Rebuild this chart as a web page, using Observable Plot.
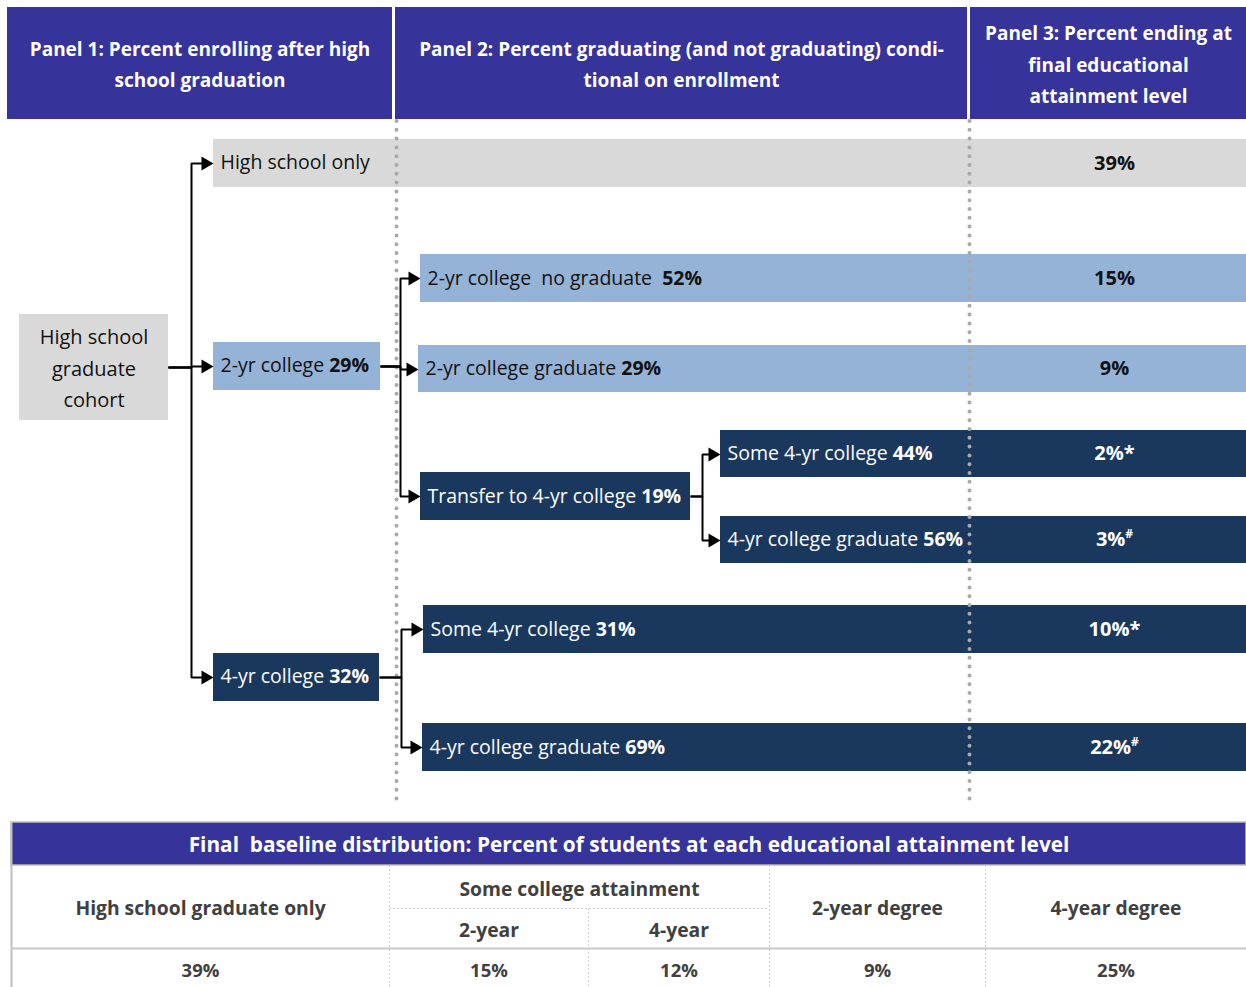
<!DOCTYPE html>
<html>
<head>
<meta charset="utf-8">
<script src="https://cdn.jsdelivr.net/npm/d3@7"></script>
<script src="https://cdn.jsdelivr.net/npm/@observablehq/plot@0.6"></script>
<style>
  html, body { margin: 0; padding: 0; background: #fff; }
  svg text { white-space: pre; }
</style>
</head>
<body>
<div id="chart"></div>
<script>
// ---------------- DATA ----------------
const panelTitles = [
  ["Panel 1: Percent enrolling after high", "school graduation"],
  ["Panel 2: Percent graduating (and not graduating) condi-", "tional on enrollment"],
  ["Panel 3: Percent ending at", "final educational", "attainment level"]
];
const cohortLabel = ["High school", "graduate", "cohort"];
const enrollLabels = ["High school only", "2-yr college", "4-yr college"];
const enrollPct = [null, 29, 32];
const outcomeLabels = [
  "2-yr college  no graduate  ",
  "2-yr college graduate ",
  "Transfer to 4-yr college ",
  "Some 4-yr college ",
  "4-yr college graduate ",
  "Some 4-yr college ",
  "4-yr college graduate "
];
const outcomePct = [52, 29, 19, 44, 56, 31, 69];
const finalPct = [39, 15, 9, 2, 3, 10, 22];
const finalNotes = ["", "", "", "*", "#", "*", "#"];
const tableTitle = "Final  baseline distribution: Percent of students at each educational attainment level";
const tableHeaders = ["High school graduate only", "Some college attainment", "2-year degree", "4-year degree"];
const tableSubHeaders = ["2-year", "4-year"];
const tableValues = [39, 15, 12, 9, 25];

// ---------------- LAYOUT & STYLE ----------------
const W = 1246, H = 987;
const FONT = "'Open Sans', 'Noto Sans', sans-serif";
const C = {
  header: "#36339a", grey: "#d9d9d9", light: "#95b3d7", dark: "#1a375e",
  ink: "#111111", tableInk: "#404040", dots: "#a9a9a9", rule: "#c8c8c8", faint: "#d4d4d4"
};
const headerBand = {y0: 7, y1: 119, cols: [[7, 392], [395, 967], [970, 1246]]};
const geo = {
  cohort: [19, 168, 314, 420],
  hs: [213, 1246, 139, 187],
  cc: [213, 380, 342, 390],
  fy: [213, 379, 653, 701],
  ccNo: [420, 1246, 254, 302],
  ccGrad: [418, 1246, 345, 392],
  transfer: [420, 690, 472, 520],
  trSome: [720, 1246, 430, 477],
  trGrad: [720, 1246, 516, 563],
  fySome: [423, 1246, 605, 653],
  fyGrad: [422, 1246, 723, 771]
};
const tone = {cohort: "grey", hs: "grey", cc: "light", fy: "dark", ccNo: "light", ccGrad: "light",
  transfer: "dark", trSome: "dark", trGrad: "dark", fySome: "dark", fyGrad: "dark"};
const enrollIds = ["hs", "cc", "fy"];
const outcomeIds = ["ccNo", "ccGrad", "transfer", "trSome", "trGrad", "fySome", "fyGrad"];
const finalIds = ["hs", "ccNo", "ccGrad", "trSome", "trGrad", "fySome", "fyGrad"];
const links = [
  {from: "cohort", trunk: 191, to: ["hs", "cc", "fy"]},
  {from: "cc", trunk: 400, to: ["ccNo", "ccGrad", "transfer"]},
  {from: "transfer", trunk: 702, to: ["trSome", "trGrad"]},
  {from: "fy", trunk: 401, to: ["fySome", "fyGrad"]}
];
const dividers = {xs: [396, 969], y1: 121, y2: 802};
const valueX = 1114;
const table = {x0: 11, x1: 1246, title: [822, 865], split: 908, rule: 948, bottom: 987,
  cols: [11, 389, 769, 985, 1246], sub: 588};
const arrow = {len: 12, half: 7};

// ---------------- BUILD MARK DATA ----------------
const cy = id => (geo[id][2] + geo[id][3]) / 2;
const fillOf = t => C[t];
const textOn = t => t === "dark" ? "#ffffff" : C.ink;

const rects = [];
headerBand.cols.forEach(([a, b]) => rects.push({x0: a, x1: b, y0: headerBand.y0, y1: headerBand.y1, fill: C.header}));
Object.entries(geo).forEach(([id, [a, b, c, d]]) => rects.push({x0: a, x1: b, y0: c, y1: d, fill: fillOf(tone[id])}));
const titleRect = [{x0: table.x0, x1: table.x1, y0: table.title[0], y1: table.title[1], fill: C.header}];

const paths = [], heads = [];
links.forEach((l, i) => {
  const sx = geo[l.from][1], sy = cy(l.from);
  l.to.forEach((t, j) => {
    const tx = geo[t][0], ty = Math.round(cy(t));
    const pid = `${i}-${j}`;
    [[sx, sy], [l.trunk, sy], [l.trunk, ty], [tx - arrow.len + 1, ty]].forEach(([x, y]) => paths.push({x, y, path: pid}));
    [[tx, ty], [tx - arrow.len, ty - arrow.half], [tx - arrow.len, ty + arrow.half], [tx, ty]].forEach(([x, y]) => heads.push({x, y, id: pid}));
  });
});

const headerTexts = panelTitles.map((lines, i) => ({
  x: (headerBand.cols[i][0] + headerBand.cols[i][1]) / 2,
  y: (headerBand.y0 + headerBand.y1) / 2 - 2,
  text: lines.join("\n")
}));

const cohortText = [{x: (geo.cohort[0] + geo.cohort[1]) / 2, y: cy("cohort") - 2, text: cohortLabel.join("\n")}];

const boxTexts = [];
enrollIds.forEach((id, i) => boxTexts.push({
  x: geo[id][0] + 7, y: cy(id) - 1,
  text: enrollPct[i] == null ? enrollLabels[i] : `${enrollLabels[i]} |${enrollPct[i]}%`,
  fill: textOn(tone[id])
}));
outcomeIds.forEach((id, i) => boxTexts.push({
  x: geo[id][0] + 7, y: cy(id),
  text: `${outcomeLabels[i]}|${outcomePct[i]}%`,
  fill: textOn(tone[id])
}));

const finalTexts = finalIds.map((id, i) => ({
  x: valueX, y: cy(id),
  text: `${finalPct[i]}%` + (finalNotes[i] === "#" ? "^#" : finalNotes[i]),
  fill: textOn(tone[id])
}));

const cols = table.cols;
const mid = (a, b) => (a + b) / 2;
const tableTexts = [
  {x: mid(cols[0], cols[1]), y: mid(table.title[1], table.rule) + 2, text: tableHeaders[0]},
  {x: mid(cols[1], cols[2]), y: mid(table.title[1], table.split) + 3, text: tableHeaders[1]},
  {x: mid(cols[2], cols[3]), y: mid(table.title[1], table.rule) + 2, text: tableHeaders[2]},
  {x: mid(cols[3], cols[4]), y: mid(table.title[1], table.rule) + 2, text: tableHeaders[3]},
  {x: mid(cols[1], table.sub), y: mid(table.split, table.rule) + 2, text: tableSubHeaders[0]},
  {x: mid(table.sub, cols[2]), y: mid(table.split, table.rule) + 2, text: tableSubHeaders[1]}
];
const valueCenters = [mid(cols[0], cols[1]), mid(cols[1], table.sub), mid(table.sub, cols[2]), mid(cols[2], cols[3]), mid(cols[3], cols[4])];
const tableValueTexts = tableValues.map((v, i) => ({x: valueCenters[i], y: mid(table.rule, table.bottom) + 3, text: `${v}%`}));
const titleText = [{x: mid(table.x0, table.x1), y: mid(table.title[0], table.title[1]) + 1, text: tableTitle}];

const dashedV = [cols[1], cols[2], cols[3]].map(x => ({x, y1: table.title[1], y2: table.bottom}))
  .concat([{x: table.sub, y1: table.split, y2: table.bottom}]);

// ---------------- PLOT ----------------
const chart = Plot.plot({
  width: W, height: H,
  marginTop: 0, marginRight: 0, marginBottom: 0, marginLeft: 0,
  x: {domain: [0, W], range: [0, W], axis: null},
  y: {domain: [0, H], range: [0, H], axis: null},
  color: {type: "identity"},
  style: {fontFamily: FONT, background: "#ffffff", overflow: "visible"},
  marks: [
    Plot.rect(rects, {x1: "x0", x2: "x1", y1: "y0", y2: "y1", fill: "fill"}),
    Plot.ruleX(dividers.xs, {x: d => d, y1: dividers.y1, y2: dividers.y2, stroke: C.dots, strokeWidth: 4, strokeDasharray: "0 8.8", strokeLinecap: "round"}),
    Plot.line(paths, {x: "x", y: "y", z: "path", stroke: "#000", strokeWidth: 2, strokeLinecap: "butt", strokeLinejoin: "miter"}),
    Plot.line(heads, {x: "x", y: "y", z: "id", fill: "#000", stroke: "none"}),
    // bottom table
    Plot.rect(titleRect, {x1: "x0", x2: "x1", y1: "y0", y2: "y1", fill: "fill", stroke: "#bdbdbd", strokeWidth: 1.5}),
    Plot.ruleX([table.x0], {x: d => d, y1: table.title[0], y2: table.bottom, stroke: "#bfbfbf", strokeWidth: 2}),
    Plot.ruleX(dashedV, {x: "x", y1: "y1", y2: "y2", stroke: C.faint, strokeWidth: 1, strokeDasharray: "2 2"}),
    Plot.ruleY([table.split], {y: d => d, x1: cols[1], x2: cols[2], stroke: C.faint, strokeWidth: 1, strokeDasharray: "2 2"}),
    Plot.ruleY([table.rule], {y: d => d, x1: table.x0, x2: table.x1, stroke: C.rule, strokeWidth: 2}),
    // texts
    Plot.text(headerTexts, {x: "x", y: "y", text: "text", fill: "#ffffff", fontWeight: "bold", fontSize: 19, lineHeight: 1.65}),
    Plot.text(cohortText, {x: "x", y: "y", text: "text", fill: C.ink, fontSize: 20, lineHeight: 1.58}),
    Plot.text(boxTexts, {x: "x", y: "y", text: "text", fill: "fill", fontSize: 19.5, textAnchor: "start"}),
    Plot.text(finalTexts, {x: "x", y: "y", text: "text", fill: "fill", fontSize: 20, fontWeight: "bold"}),
    Plot.text(tableTexts, {x: "x", y: "y", text: "text", fill: C.tableInk, fontSize: 19.3, fontWeight: "bold"}),
    Plot.text(tableValueTexts, {x: "x", y: "y", text: "text", fill: C.tableInk, fontSize: 18.5, fontWeight: "bold"}),
    Plot.text(titleText, {x: "x", y: "y", text: "text", fill: "#ffffff", fontSize: 20.8, fontWeight: "bold"})
  ]
});

// rich text: "|" starts a bold run, "^" starts a superscript run
const NS = "http://www.w3.org/2000/svg";
chart.querySelectorAll("text").forEach(t => {
  if (t.querySelector("tspan")) return;
  const s = t.textContent;
  if (!/[|^]/.test(s)) return;
  const [main, sup] = s.split("^");
  const [plain, bold] = main.split("|");
  t.textContent = "";
  const add = (txt, attrs) => {
    const e = document.createElementNS(NS, "tspan");
    e.textContent = txt;
    for (const k in attrs) e.setAttribute(k, attrs[k]);
    t.appendChild(e);
  };
  add(plain, {});
  if (bold !== undefined) add(bold, {"font-weight": "bold"});
  if (sup !== undefined) add(sup, {"baseline-shift": "super", "font-size": "0.6em"});
});

document.getElementById("chart").appendChild(chart);
</script>
</body>
</html>
